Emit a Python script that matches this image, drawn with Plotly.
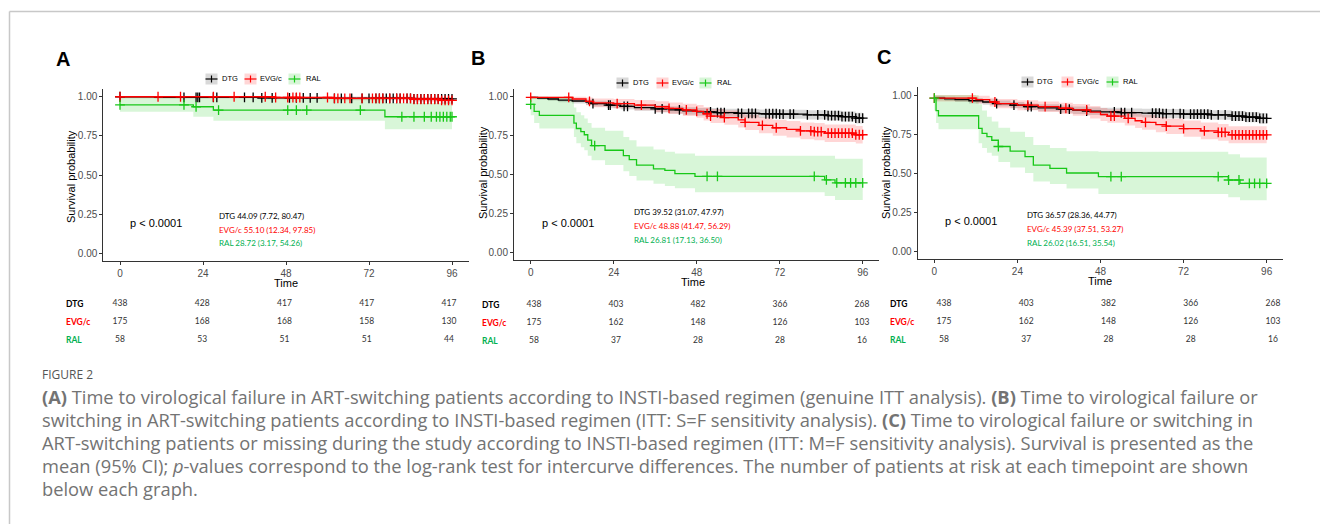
import numpy as np
import plotly.graph_objects as go

W, H = 1320, 524

# ------------------------------------------------------------------ data
groups = ["DTG", "EVG/c", "RAL"]
time_ticks = [0, 24, 48, 72, 96]
surv_ticks = [0.0, 0.25, 0.50, 0.75, 1.00]
surv_tick_labels = ["0.00", "0.25", "0.50", "0.75", "1.00"]

# ---- Panel A (genuine ITT)
A_DTG_t = [0, 10, 40, 62, 85]
A_DTG_s = [1.0, 0.996, 0.993, 0.990, 0.986]
A_DTG_lo = [0.990, 0.988, 0.984, 0.980, 0.975]
A_DTG_hi = [1.0, 1.0, 1.0, 1.0, 0.997]
A_DTG_cens = [0, 18.5, 22, 22.5, 23, 27, 28, 36, 38.5, 41, 44, 49, 51, 53, 55, 57, 62, 64, 67, 70, 72,
              74, 75, 76, 77, 78, 79, 80, 81, 83, 84, 85, 86, 87, 88, 89, 90, 91, 92, 93, 94, 95, 96]

A_EVG_t = [0, 45, 62, 85, 93]
A_EVG_s = [1.0, 0.995, 0.990, 0.984, 0.977]
A_EVG_lo = [0.995, 0.985, 0.977, 0.968, 0.958]
A_EVG_hi = [1.0, 1.0, 1.0, 1.0, 0.996]
A_EVG_cens = [0, 11, 17.5, 27, 33, 42, 45, 48.5, 50, 51, 52, 60, 62, 63, 65, 66.5, 70, 73, 74, 75, 76,
              78, 80, 81, 82, 83, 84, 85, 86, 87, 88, 89, 90, 91, 92, 93, 94, 95, 96]

A_RAL_t = [0, 21.2, 27, 76.6]
A_RAL_s = [0.948, 0.936, 0.915, 0.872]
A_RAL_lo = [0.904, 0.872, 0.846, 0.793]
A_RAL_hi = [1.0, 1.0, 0.99, 0.96]
A_RAL_cens = [0, 18.5, 22, 28.5, 48.5, 51, 54, 69.5, 81.5, 85, 88, 90, 91.5, 92.5, 93.5, 94.5, 95.5, 96]

# ---- Panel B (ITT: S=F)
B_DTG_t = [0, 2, 5, 8, 12, 16, 18, 22, 26, 30, 36, 40, 44, 48, 54, 60, 66, 72, 80, 86, 90, 94]
B_DTG_s = [0.995, 0.990, 0.985, 0.978, 0.972, 0.965, 0.955, 0.945, 0.937, 0.930, 0.922, 0.915, 0.908,
           0.902, 0.897, 0.893, 0.890, 0.887, 0.883, 0.878, 0.872, 0.862]
B_DTG_lo = [0.985, 0.980, 0.972, 0.964, 0.956, 0.948, 0.937, 0.926, 0.917, 0.909, 0.900, 0.892, 0.884,
            0.877, 0.871, 0.866, 0.862, 0.858, 0.853, 0.847, 0.840, 0.828]
B_DTG_hi = [1.0, 1.0, 0.997, 0.992, 0.988, 0.982, 0.973, 0.964, 0.957, 0.951, 0.944, 0.938, 0.932,
            0.927, 0.923, 0.920, 0.918, 0.916, 0.913, 0.909, 0.904, 0.896]
B_DTG_cens = [18, 22.5, 23, 27, 28, 36, 38, 43, 52, 54, 55, 56, 60, 61, 63, 64, 65, 68, 69, 70, 71, 72,
              73, 75, 76, 80, 83, 85, 86, 87, 88, 89, 90, 91, 92, 93, 94, 95, 96]

B_EVG_t = [0, 12, 16, 18, 24, 30, 36, 40, 44, 48, 50, 52, 56, 60, 62, 66, 70, 74, 78, 82, 85, 94]
B_EVG_s = [0.995, 0.985, 0.970, 0.960, 0.955, 0.945, 0.935, 0.925, 0.915, 0.905, 0.890, 0.875, 0.865,
           0.850, 0.835, 0.815, 0.800, 0.790, 0.780, 0.775, 0.765, 0.755]
B_EVG_lo = [0.985, 0.967, 0.945, 0.932, 0.925, 0.912, 0.900, 0.888, 0.876, 0.864, 0.847, 0.830, 0.819,
            0.802, 0.786, 0.764, 0.748, 0.737, 0.726, 0.720, 0.709, 0.698]
B_EVG_hi = [1.0, 1.0, 0.995, 0.988, 0.985, 0.978, 0.970, 0.962, 0.954, 0.946, 0.933, 0.920, 0.911,
            0.898, 0.884, 0.866, 0.852, 0.843, 0.834, 0.830, 0.821, 0.812]
B_EVG_cens = [0, 11, 17, 25, 32, 40, 45, 48, 51, 52, 56, 62, 67, 71, 78, 81, 82, 83, 84, 86, 87, 88, 89,
              90, 91, 92, 93, 94, 95, 96]

B_RAL_t = [0, 1, 2.5, 12.5, 13.2, 14.5, 15.5, 16.5, 17.6, 21.5, 26.8, 28.5, 30.6, 35.5, 38.8, 41.7,
           47.5, 85, 88]
B_RAL_s = [0.950, 0.905, 0.880, 0.830, 0.795, 0.775, 0.755, 0.720, 0.685, 0.655, 0.620, 0.595, 0.560,
           0.535, 0.525, 0.505, 0.487, 0.465, 0.445]
B_RAL_lo = [0.880, 0.830, 0.795, 0.740, 0.700, 0.675, 0.655, 0.620, 0.590, 0.560, 0.520, 0.490, 0.460,
            0.440, 0.425, 0.410, 0.385, 0.360, 0.335]
B_RAL_hi = [1.0, 1.0, 1.0, 0.930, 0.900, 0.880, 0.860, 0.830, 0.800, 0.780, 0.740, 0.720, 0.680,
            0.660, 0.645, 0.635, 0.620, 0.620, 0.600]
B_RAL_cens = [0, 18.5, 51, 54, 82, 85.5, 88.5, 91, 92.5, 94, 96]

# ---- Panel C (ITT: M=F)
C_DTG_t = [0, 3, 6, 10, 14, 18, 22, 26, 30, 36, 40, 44, 48, 54, 60, 66, 72, 80, 86, 90, 94]
C_DTG_s = [0.980, 0.975, 0.970, 0.963, 0.955, 0.945, 0.935, 0.925, 0.918, 0.910, 0.903, 0.897, 0.892,
           0.887, 0.884, 0.881, 0.877, 0.872, 0.865, 0.858, 0.850]
C_DTG_lo = [0.967, 0.961, 0.955, 0.946, 0.937, 0.926, 0.915, 0.904, 0.896, 0.887, 0.879, 0.872, 0.866,
            0.860, 0.856, 0.852, 0.847, 0.841, 0.833, 0.825, 0.815]
C_DTG_hi = [0.993, 0.989, 0.985, 0.980, 0.973, 0.964, 0.955, 0.946, 0.940, 0.933, 0.927, 0.922, 0.918,
            0.914, 0.912, 0.910, 0.907, 0.903, 0.897, 0.891, 0.885]
C_DTG_cens = [18, 23, 27, 28, 36.5, 39, 44, 52, 54, 55, 57, 63, 64, 65, 66, 67, 69, 71, 72, 74, 75, 76,
              77, 78, 79, 80, 82, 84, 86, 87, 88, 89, 90, 91, 92, 93, 94, 95, 96]

C_EVG_t = [0, 12, 16, 18, 24, 30, 36, 40, 45, 48, 50, 55, 58, 60, 64, 67, 72, 77, 82, 85]
C_EVG_s = [0.980, 0.970, 0.955, 0.945, 0.935, 0.925, 0.915, 0.905, 0.890, 0.875, 0.865, 0.850, 0.835,
           0.825, 0.810, 0.800, 0.785, 0.770, 0.760, 0.745]
C_EVG_lo = [0.958, 0.945, 0.927, 0.915, 0.903, 0.891, 0.879, 0.867, 0.850, 0.833, 0.822, 0.805, 0.788,
            0.777, 0.761, 0.750, 0.733, 0.717, 0.706, 0.690]
C_EVG_hi = [1.0, 0.995, 0.983, 0.975, 0.967, 0.959, 0.951, 0.943, 0.930, 0.917, 0.908, 0.895, 0.882,
            0.873, 0.859, 0.850, 0.837, 0.823, 0.814, 0.800]
C_EVG_cens = [0, 11, 17.5, 27, 32, 38, 44, 51, 52, 56, 61, 67, 72, 78, 82, 83, 84, 86, 87, 88, 89, 90,
              91, 92, 93, 94, 95, 96]

C_RAL_t = [0, 0.5, 1.2, 12.8, 13.8, 15.2, 16.6, 18.5, 21.9, 26.2, 28.6, 33.4, 38.2, 47.4, 84.9, 88.3]
C_RAL_s = [0.980, 0.900, 0.867, 0.786, 0.754, 0.733, 0.710, 0.670, 0.640, 0.605, 0.550, 0.530, 0.500,
           0.477, 0.455, 0.434]
C_RAL_lo = [0.900, 0.820, 0.780, 0.690, 0.660, 0.630, 0.610, 0.570, 0.535, 0.500, 0.445, 0.430, 0.400,
            0.365, 0.345, 0.326]
C_RAL_hi = [1.0, 1.0, 1.0, 0.940, 0.900, 0.860, 0.830, 0.790, 0.765, 0.730, 0.680, 0.660, 0.640,
            0.637, 0.620, 0.600]
C_RAL_cens = [0, 18.5, 51, 54, 82, 85, 88, 91, 92.5, 94, 96]

# mean survival (95% CI) texts
A_means = ["DTG 44.09 (7.72, 80.47)", "EVG/c 55.10 (12.34, 97.85)", "RAL 28.72 (3.17, 54.26)"]
B_means = ["DTG 39.52 (31.07, 47.97)", "EVG/c 48.88 (41.47, 56.29)", "RAL 26.81 (17.13, 36.50)"]
C_means = ["DTG 36.57 (28.36, 44.77)", "EVG/c 45.39 (37.51, 53.27)", "RAL 26.02 (16.51, 35.54)"]
p_value_text = "p < 0.0001"

# number at risk
A_risk_DTG = [438, 428, 417, 417, 417]
A_risk_EVG = [175, 168, 168, 158, 130]
A_risk_RAL = [58, 53, 51, 51, 44]
B_risk_DTG = [438, 403, 482, 366, 268]
B_risk_EVG = [175, 162, 148, 126, 103]
B_risk_RAL = [58, 37, 28, 28, 16]
C_risk_DTG = [438, 403, 382, 366, 268]
C_risk_EVG = [175, 162, 148, 126, 103]
C_risk_RAL = [58, 37, 28, 28, 16]

caption_title = "FIGURE 2"
caption_lines = [
    "<b>(A)</b> Time to virological failure in ART-switching patients according to INSTI-based regimen (genuine ITT analysis). <b>(B)</b> Time to virological failure or",
    "switching in ART-switching patients according to INSTI-based regimen (ITT: S=F sensitivity analysis). <b>(C)</b> Time to virological failure or switching in",
    "ART-switching patients or missing during the study according to INSTI-based regimen (ITT: M=F sensitivity analysis). Survival is presented as the",
    "mean (95% CI); <i>p</i>-values correspond to the log-rank test for intercurve differences. The number of patients at risk at each timepoint are shown",
    "below each graph.",
]

# ------------------------------------------------------------------ styles
LINE_COL = {"DTG": "#000000", "EVG/c": "#FF0000", "RAL": "#18C818"}
BAND_COL = {"DTG": "rgba(0,0,0,0.15)", "EVG/c": "rgba(255,0,0,0.16)", "RAL": "rgba(24,200,24,0.17)"}
KEY_COL = {"DTG": "#D9D9D9", "EVG/c": "#FFD6D6", "RAL": "#D8F5D8"}
TXT_COL = {"DTG": "#000000", "EVG/c": "#FF0000", "RAL": "#00B050"}
AX_FONT = "Liberation Sans, Arial, sans-serif"
SMALL_FONT = "Lato, Carlito, sans-serif"
CAP_FONT = "Open Sans, sans-serif"


def px(x):
    return x / W


def py(y):
    return 1 - y / H


panels = [
    dict(letter="A", letter_xy=(63, 59),
         curves=[(A_DTG_t, A_DTG_s, A_DTG_lo, A_DTG_hi, A_DTG_cens),
                 (A_EVG_t, A_EVG_s, A_EVG_lo, A_EVG_hi, A_EVG_cens),
                 (A_RAL_t, A_RAL_s, A_RAL_lo, A_RAL_hi, A_RAL_cens)],
         xdom=(103.4, 468.6), ydom=(88.9, 261.1),
         ylab_xy=(71, 177), time_xy=(286, 283), p_xy=(156, 223),
         means=A_means, means_x=217, means_y=[216, 230, 243],
         legend_y=79, keys_x=[206, 245, 289], labels_x=[220, 258, 304],
         risk=[A_risk_DTG, A_risk_EVG, A_risk_RAL], tdom=(120, 449), tydom=(295, 349), rowlab_x=64),
    dict(letter="B", letter_xy=(478, 58),
         curves=[(B_DTG_t, B_DTG_s, B_DTG_lo, B_DTG_hi, B_DTG_cens),
                 (B_EVG_t, B_EVG_s, B_EVG_lo, B_EVG_hi, B_EVG_cens),
                 (B_RAL_t, B_RAL_s, B_RAL_lo, B_RAL_hi, B_RAL_cens)],
         xdom=(514.1, 879.3), ydom=(88.9, 259.8),
         ylab_xy=(483, 173), time_xy=(693, 282), p_xy=(568, 223),
         means=B_means, means_x=632, means_y=[212, 226, 240],
         legend_y=83, keys_x=[617, 657, 700], labels_x=[631, 670, 715],
         risk=[B_risk_DTG, B_risk_EVG, B_risk_RAL], tdom=(534, 862), tydom=(296, 350), rowlab_x=480),
    dict(letter="C", letter_xy=(884, 57),
         curves=[(C_DTG_t, C_DTG_s, C_DTG_lo, C_DTG_hi, C_DTG_cens),
                 (C_EVG_t, C_EVG_s, C_EVG_lo, C_EVG_hi, C_EVG_cens),
                 (C_RAL_t, C_RAL_s, C_RAL_lo, C_RAL_hi, C_RAL_cens)],
         xdom=(917.7, 1283.3), ydom=(87.2, 258.8),
         ylab_xy=(886, 173), time_xy=(1100, 281), p_xy=(971, 221),
         means=C_means, means_x=1025, means_y=[215, 229, 243],
         legend_y=82, keys_x=[1022, 1062, 1107], labels_x=[1035, 1075, 1121],
         risk=[C_risk_DTG, C_risk_EVG, C_risk_RAL], tdom=(944, 1273), tydom=(295, 349), rowlab_x=888),
]

fig = go.Figure()
shapes = []
annotations = []
layout_axes = {}


def step_value(t, s, x):
    idx = np.searchsorted(np.asarray(t, dtype=float), x, side="right") - 1
    return np.asarray(s)[np.clip(idx, 0, len(s) - 1)]


def note(x, y, text, size, color="#000000", family=AX_FONT, xanchor="center", angle=0):
    annotations.append(dict(x=px(x), y=py(y), xref="paper", yref="paper", text=text, showarrow=False,
                            xanchor=xanchor, yanchor="middle", textangle=angle,
                            font=dict(family=family, size=size, color=color)))


for i, P in enumerate(panels):
    n = i + 1
    xa, ya = f"x{n}", f"y{n}"
    xk, yk = ("xaxis" if n == 1 else f"xaxis{n}"), ("yaxis" if n == 1 else f"yaxis{n}")
    tn = n + 3
    txa, tya = f"x{tn}", f"y{tn}"

    # confidence bands first
    for g, (t, s, lo, hi, cens) in zip(groups, P["curves"]):
        tt = list(t) + [96]
        fig.add_trace(go.Scatter(x=tt, y=list(lo) + [lo[-1]], mode="lines", line=dict(width=0, shape="hv"),
                                 xaxis=xa, yaxis=ya, showlegend=False, hoverinfo="skip"))
        fig.add_trace(go.Scatter(x=tt, y=list(hi) + [hi[-1]], mode="lines", line=dict(width=0, shape="hv"),
                                 fill="tonexty", fillcolor=BAND_COL[g],
                                 xaxis=xa, yaxis=ya, showlegend=False, hoverinfo="skip"))
    # survival curves + censor marks
    for g, (t, s, lo, hi, cens) in zip(groups, P["curves"]):
        tt = list(t) + [96]
        fig.add_trace(go.Scatter(x=tt, y=list(s) + [s[-1]], mode="lines",
                                 line=dict(color=LINE_COL[g], width=1.3, shape="hv"),
                                 xaxis=xa, yaxis=ya, showlegend=False, name=g))
        fig.add_trace(go.Scatter(x=cens, y=step_value(t, s, cens), mode="markers", cliponaxis=False,
                                 marker=dict(symbol="cross-thin", size=7, line=dict(color=LINE_COL[g], width=1.3)),
                                 xaxis=xa, yaxis=ya, showlegend=False, name=g))

    layout_axes[xk] = dict(domain=[px(P["xdom"][0]), px(P["xdom"][1])], range=[-4.8, 100.8],
                           tickvals=time_ticks, ticktext=[str(v) for v in time_ticks],
                           showline=True, linecolor="#333333", linewidth=1.2, ticks="outside", ticklen=3,
                           tickcolor="#333333", tickfont=dict(family=AX_FONT, size=10, color="#4D4D4D"),
                           showgrid=False, zeroline=False, anchor=ya, fixedrange=True)
    layout_axes[yk] = dict(domain=[py(P["ydom"][1]), py(P["ydom"][0])], range=[-0.05, 1.05],
                           tickvals=surv_ticks, ticktext=surv_tick_labels,
                           showline=True, linecolor="#333333", linewidth=1.2, ticks="outside", ticklen=3,
                           tickcolor="#333333", tickfont=dict(family=AX_FONT, size=10, color="#4D4D4D"),
                           showgrid=False, zeroline=False, anchor=xa, fixedrange=True)

    # number-at-risk table as text traces on hidden axes
    for r, (g, vals) in enumerate(zip(groups, P["risk"])):
        fig.add_trace(go.Scatter(x=time_ticks, y=[r] * len(time_ticks), mode="text", cliponaxis=False,
                                 text=[str(v) for v in vals],
                                 textfont=dict(family=SMALL_FONT, size=8.5, color="#333333"),
                                 xaxis=txa, yaxis=tya, showlegend=False, hoverinfo="skip"))
        annotations.append(dict(x=px(P["rowlab_x"]), y=r, xref="paper", yref=tya, xanchor="left",
                                yanchor="middle", showarrow=False, text=f"<b>{g}</b>",
                                font=dict(family=SMALL_FONT, size=8.5, color=TXT_COL[g])))
    layout_axes[f"xaxis{tn}"] = dict(domain=[px(P["tdom"][0]), px(P["tdom"][1])], range=[0, 96],
                                     visible=False, anchor=tya, fixedrange=True)
    layout_axes[f"yaxis{tn}"] = dict(domain=[py(P["tydom"][1]), py(P["tydom"][0])], range=[2.5, -0.5],
                                     visible=False, anchor=txa, fixedrange=True)

    # texts
    note(*P["letter_xy"], f"<b>{P['letter']}</b>", 20)
    note(*P["ylab_xy"], "Survival probability", 11, angle=-90)
    note(*P["time_xy"], "Time", 11)
    note(*P["p_xy"], p_value_text, 11)
    for g, txt, yy in zip(groups, P["means"], P["means_y"]):
        note(P["means_x"], yy, txt, 8, color=TXT_COL[g], family=SMALL_FONT, xanchor="left")
    # legend (manual keys)
    ly = P["legend_y"]
    for g, kx, lx in zip(groups, P["keys_x"], P["labels_x"]):
        shapes.append(dict(type="rect", xref="paper", yref="paper", x0=px(kx - 0.5), x1=px(kx + 11.5),
                           y0=py(ly + 5.5), y1=py(ly - 5.5), fillcolor=KEY_COL[g], line=dict(width=0),
                           layer="above"))
        shapes.append(dict(type="line", xref="paper", yref="paper", x0=px(kx - 0.5), x1=px(kx + 11.5),
                           y0=py(ly), y1=py(ly), line=dict(color=LINE_COL[g], width=1.2), layer="above"))
        shapes.append(dict(type="line", xref="paper", yref="paper", x0=px(kx + 5.5), x1=px(kx + 5.5),
                           y0=py(ly + 3.5), y1=py(ly - 3.5), line=dict(color=LINE_COL[g], width=1.2),
                           layer="above"))
        note(lx, ly, g, 7.5, xanchor="left")

# frame lines
shapes.append(dict(type="line", xref="paper", yref="paper", x0=px(9.5), x1=1, y0=py(11.5), y1=py(11.5),
                   line=dict(color="#C8C8C8", width=1.5)))
shapes.append(dict(type="line", xref="paper", yref="paper", x0=px(9.5), x1=px(9.5), y0=py(11.5), y1=0,
                   line=dict(color="#C8C8C8", width=1.5)))

# caption
note(40, 374, caption_title, 12, color="#555555", family=CAP_FONT, xanchor="left")
for k, line in enumerate(caption_lines):
    note(40, 396 + 23.2 * k, line, 18.3, color="#737373", family=CAP_FONT, xanchor="left")

fig.update_layout(width=W, height=H, margin=dict(l=0, r=0, t=0, b=0), autosize=False,
                  paper_bgcolor="white", plot_bgcolor="white", showlegend=False,
                  shapes=shapes, annotations=annotations, **layout_axes)

fig.write_html("out.html", config={"displayModeBar": False},
               post_script="document.body.style.margin='0px';document.body.style.overflow='hidden';")
